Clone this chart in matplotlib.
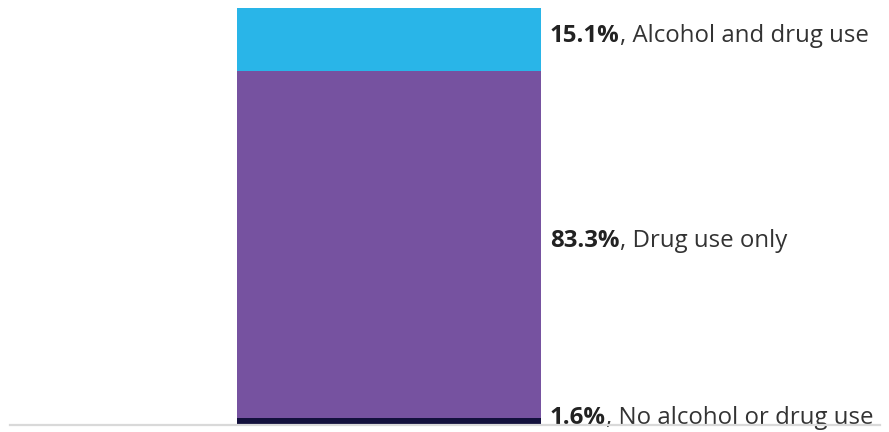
import matplotlib
matplotlib.use("Agg")
import matplotlib.pyplot as plt

# Share of cases by substance involvement (stacked, bottom to top)
categories = ["No alcohol or drug use", "Drug use only", "Alcohol and drug use"]
shares = [1.6, 83.3, 15.1]
colors = ["#13113d", "#7652a0", "#29b5e8"]

plt.rcParams["font.family"] = ["Open Sans", "DejaVu Sans"]

W, H = 889, 432
fig = plt.figure(figsize=(W / 100, H / 100), dpi=100)
ax = fig.add_axes([10 / W, 7 / H, 870 / W, 417 / H])

bar_w = 1.0
left_gap = (237 - 10) / 304
x0 = -bar_w / 2 - left_gap
ax.set_xlim(x0, x0 + 870 / 304)
ax.set_ylim(0, sum(shares))

FS = 17.3
bottom = 0
for cat, val, col in zip(categories, shares, colors):
    ax.bar(0, val, width=bar_w, bottom=bottom, color=col, linewidth=0, zorder=2)
    mid = bottom + val / 2
    pct = ax.annotate(f"{val:.1f}%", (bar_w / 2, mid), xytext=(6.5, -1.5),
                      textcoords="offset points", fontsize=FS, fontweight="bold",
                      color="#222222", va="baseline", ha="left", zorder=1)
    # category name follows the bold percentage on the same line
    ax.annotate(f", {cat}", xy=(1, 0), xycoords=pct, xytext=(0, 0),
                textcoords="offset points", fontsize=FS, color="#333333",
                va="bottom", ha="left", zorder=1)
    bottom += val

for side in ["top", "left", "right"]:
    ax.spines[side].set_visible(False)
ax.spines["bottom"].set_color("#d9d9d9")
ax.spines["bottom"].set_linewidth(1.6)
ax.spines["bottom"].set_zorder(3)
ax.set_xticks([])
ax.set_yticks([])
ax.patch.set_alpha(0)

fig.savefig("out.png", dpi=100)
